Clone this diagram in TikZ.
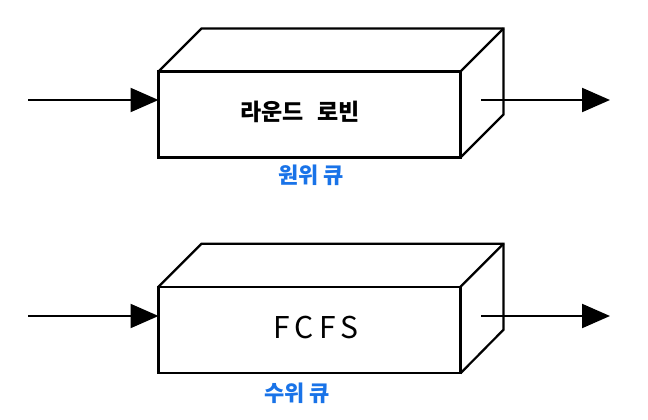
\documentclass[tikz,border=0pt]{standalone}
\usepackage{fontspec}
\newfontfamily\kr{Noto Sans CJK KR}
\usetikzlibrary{arrows.meta}
\definecolor{qblue}{RGB}{25,115,232}
\tikzset{
  frontface/.style={draw, line width=2.2pt, minimum width=302pt, minimum height=86pt, inner sep=0pt, outer sep=0pt},
  edgeline/.style={line width=2.2pt, line join=miter},
  flow/.style={line width=2.2pt, -{Triangle[length=28pt,width=24pt]}},
  boxtitle/.style={font=\kr\bfseries\fontsize{23}{26}\selectfont, inner sep=0pt},
  qlabel/.style={text=qblue, font=\kr\bfseries\fontsize{22}{25}\selectfont, inner sep=0pt}
}
\begin{document}
\begin{tikzpicture}[x=1pt,y=-1pt]
\useasboundingbox (0,0) rectangle (648,420);
% top queue
\node[frontface] (rr) at (309.5,114.5) {};
\draw[edgeline] (rr.north west) -- ++(43,-43) -- ++(302,0) coordinate (rrbk) -- ++(0,86) -- (rr.south east);
\draw[edgeline] (rr.north east) -- (rrbk);
\node[boxtitle] (rrtext) at (300,112) {라운드\hspace{0.6em}로빈};
\node[qlabel] (rrq) at (311,175) {원위 큐};
\coordinate (rrin) at (28,100);
\coordinate (rrout1) at (481,100);
\coordinate (rrout2) at (610,100);
\draw[flow] (rrin) -- (rrin -| rr.west);
\draw[flow] (rrout1) -- (rrout2);
% bottom queue
\node[frontface, minimum height=86.6pt] (fc) at (309.5,330) {};
\draw[edgeline] (fc.north west) -- ++(43,-43) -- ++(302,0) coordinate (fcbk) -- ++(0,86) -- (fc.south east);
\draw[edgeline] (fc.north east) -- (fcbk);
\node[boxtitle, font=\kr\fontsize{30}{33}\selectfont] (fctext) at (316,328) {F\,C\,F\,S};
\node[qlabel] (fcq) at (297,393) {수위 큐};
\coordinate (fcin) at (28,316);
\coordinate (fcout1) at (481,316);
\coordinate (fcout2) at (610,316);
\draw[flow] (fcin) -- (fcin -| fc.west);
\draw[flow] (fcout1) -- (fcout2);
\end{tikzpicture}
\end{document}
